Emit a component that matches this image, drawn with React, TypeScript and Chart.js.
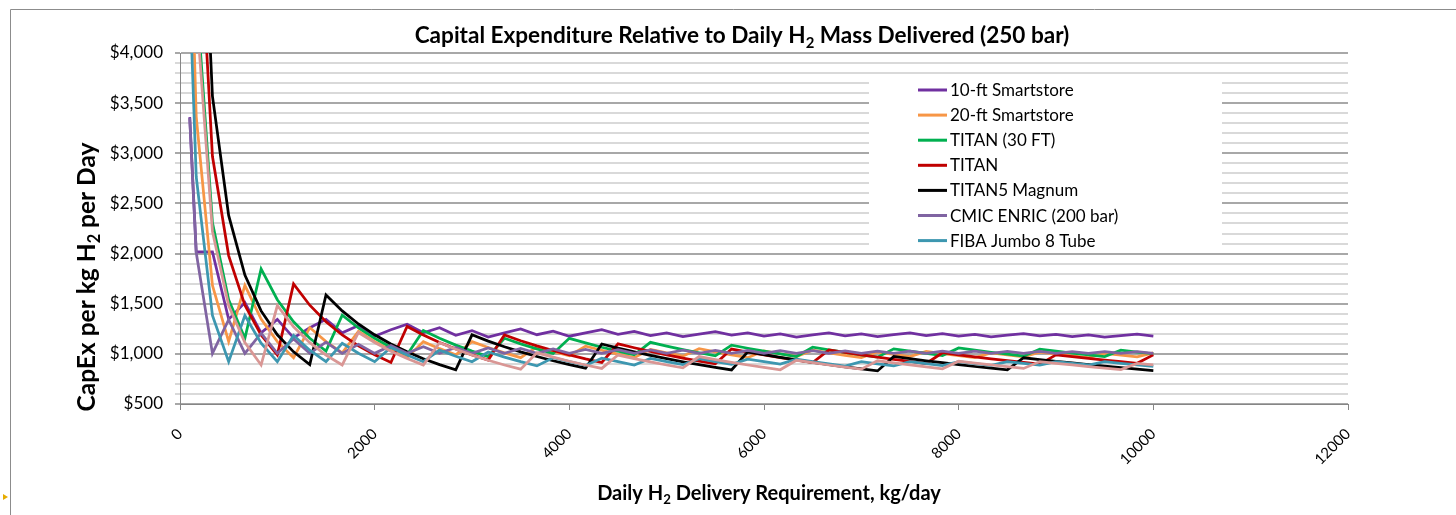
import React, { useEffect, useRef } from 'react';
import { Chart, registerables } from 'chart.js';

Chart.register(...registerables);

const FONT = 'Lato, "Open Sans", "DejaVu Sans", sans-serif';

// Daily H2 delivery requirement (kg/day) at each computed point
const DELIVERY_KG = [100, 166.7, 333.3, 500, 666.7, 833.3, 1000, 1166.7, 1333.3, 1500, 1666.7, 1833.3, 2000, 2166.7, 2333.3, 2500, 2666.7, 2833.3, 3000, 3166.7, 3333.3, 3500, 3666.7, 3833.3, 4000, 4166.7, 4333.3, 4500, 4666.7, 4833.3, 5000, 5166.7, 5333.3, 5500, 5666.7, 5833.3, 6000, 6166.7, 6333.3, 6500, 6666.7, 6833.3, 7000, 7166.7, 7333.3, 7500, 7666.7, 7833.3, 8000, 8166.7, 8333.3, 8500, 8666.7, 8833.3, 9000, 9166.7, 9333.3, 9500, 9666.7, 9833.3, 10000];

const SMARTSTORE_10FT = [3360, 2016, 2016, 1344, 1512, 1210, 1344, 1160, 1260, 1344, 1210, 1283, 1176, 1241, 1296, 1210, 1260, 1186, 1232, 1167, 1210, 1248, 1191, 1227, 1176, 1210, 1241, 1195, 1224, 1182, 1210, 1171, 1197, 1222, 1186, 1210, 1176, 1199, 1167, 1189, 1210, 1180, 1200, 1172, 1191, 1210, 1183, 1201, 1176, 1193, 1169, 1186, 1202, 1179, 1195, 1173, 1188, 1167, 1182, 1196, 1176];
const SMARTSTORE_20FT = [5610, 3366, 1683, 1122, 1683, 1346, 1122, 962, 1262, 1122, 1010, 1224, 1122, 1036, 962, 1122, 1052, 990, 1122, 1063, 1010, 962, 1071, 1024, 982, 1077, 1036, 997, 962, 1045, 1010, 977, 1052, 1020, 990, 962, 1029, 1001, 974, 1036, 1010, 985, 962, 1018, 994, 972, 1024, 1003, 982, 962, 1010, 990, 971, 1016, 997, 979, 962, 1004, 987, 970, 1010];
const TITAN_30FT = [7700, 4620, 2310, 1540, 1155, 1848, 1540, 1320, 1155, 1027, 1386, 1260, 1155, 1066, 990, 1232, 1155, 1087, 1027, 973, 1155, 1100, 1050, 1004, 1155, 1109, 1066, 1027, 990, 1115, 1078, 1043, 1011, 980, 1087, 1056, 1027, 999, 973, 1066, 1040, 1014, 990, 967, 1050, 1027, 1004, 983, 1059, 1037, 1016, 997, 977, 1046, 1027, 1008, 990, 973, 1036, 1018, 1001];
const TITAN = [9900, 5940, 2970, 1980, 1485, 1188, 990, 1697, 1485, 1320, 1188, 1080, 990, 914, 1273, 1188, 1114, 1048, 990, 938, 1188, 1131, 1080, 1033, 990, 950, 914, 1100, 1061, 1024, 990, 958, 928, 900, 1048, 1018, 990, 963, 938, 914, 1040, 1014, 990, 967, 945, 924, 904, 1011, 990, 970, 950, 932, 914, 897, 990, 972, 955, 938, 922, 906, 990];
const TITAN5_MAGNUM = [11900, 7140, 3570, 2380, 1785, 1428, 1190, 1020, 893, 1587, 1428, 1298, 1190, 1098, 1020, 952, 893, 840, 1190, 1127, 1071, 1020, 974, 931, 893, 857, 1098, 1058, 1020, 985, 952, 921, 893, 865, 840, 1020, 992, 965, 939, 915, 893, 871, 850, 830, 974, 952, 931, 912, 893, 874, 857, 840, 961, 943, 926, 909, 893, 877, 862, 847, 833];
const CMIC_ENRIC = [3350, 2010, 1005, 1340, 1005, 1206, 1005, 1149, 1005, 1117, 1005, 1096, 1005, 1082, 1005, 1072, 1005, 1064, 1005, 1058, 1005, 1053, 1005, 1049, 1005, 1045, 1005, 1042, 1005, 1040, 1005, 1037, 1005, 1035, 1005, 1034, 1005, 1032, 1005, 1031, 1005, 1030, 1005, 1028, 1005, 1027, 1005, 1026, 1005, 1026, 1005, 1025, 1005, 1024, 1005, 1023, 1005, 1023, 1005, 1022, 1005];
const FIBA_JUMBO = [4610, 2766, 1383, 922, 1383, 1106, 922, 1185, 1037, 922, 1106, 1006, 922, 1064, 988, 922, 1037, 976, 922, 1019, 968, 922, 880, 962, 922, 885, 957, 922, 889, 954, 922, 892, 951, 922, 895, 948, 922, 897, 946, 922, 899, 877, 922, 901, 880, 922, 902, 883, 922, 903, 885, 922, 904, 887, 922, 905, 889, 922, 906, 891, 876];
const UNLISTED_SERIES = [7410, 4446, 2223, 1482, 1112, 889, 1482, 1270, 1112, 988, 889, 1213, 1112, 1026, 953, 889, 1112, 1046, 988, 936, 889, 847, 1010, 967, 926, 889, 855, 988, 953, 920, 889, 860, 973, 943, 915, 889, 865, 841, 936, 912, 889, 868, 847, 931, 909, 889, 870, 851, 926, 907, 889, 872, 855, 923, 906, 889, 873, 858, 843, 904, 889];

const SERIES_NAMES = ['10-ft Smartstore', '20-ft Smartstore', 'TITAN (30 FT)', 'TITAN', 'TITAN5 Magnum', 'CMIC ENRIC (200 bar)', 'FIBA Jumbo 8 Tube', ''];
const SERIES_VALUES = [SMARTSTORE_10FT, SMARTSTORE_20FT, TITAN_30FT, TITAN, TITAN5_MAGNUM, CMIC_ENRIC, FIBA_JUMBO, UNLISTED_SERIES];
const SERIES_COLORS = ['#7030A0', '#F79646', '#00B050', '#C00000', '#000000', '#8064A2', '#3D97B0', '#D99694'];

const X_MIN = 0;
const X_MAX = 12000;
const X_STEP = 2000;
const Y_MIN = 500;
const Y_MAX = 4000;
const Y_MINOR = 100;
const Y_MAJOR = 500;

type Seg = [string, boolean];
const TITLE: Seg[] = [['Capital Expenditure Relative to Daily H', false], ['2', true], [' Mass Delivered (250 bar)', false]];
const Y_TITLE: Seg[] = [['CapEx per kg H', false], ['2', true], [' per Day', false]];
const X_TITLE: Seg[] = [['Daily H', false], ['2', true], [' Delivery Requirement, kg/day', false]];

function richWidth(ctx: CanvasRenderingContext2D, segs: Seg[], size: number, weight: string) {
  let w = 0;
  for (const [t, sub] of segs) {
    ctx.font = `${weight} ${sub ? size * 0.66 : size}px ${FONT}`;
    w += ctx.measureText(t).width;
  }
  return w;
}

function drawRich(ctx: CanvasRenderingContext2D, segs: Seg[], cx: number, baseline: number, size: number, weight: string) {
  const total = richWidth(ctx, segs, size, weight);
  let x = cx - total / 2;
  ctx.textAlign = 'left';
  ctx.textBaseline = 'alphabetic';
  for (const [t, sub] of segs) {
    const s = sub ? size * 0.66 : size;
    ctx.font = `${weight} ${s}px ${FONT}`;
    ctx.fillText(t, x, sub ? baseline + size * 0.2 : baseline);
    x += ctx.measureText(t).width;
  }
}

function fitSize(ctx: CanvasRenderingContext2D, segs: Seg[], target: number, weight: string) {
  return (20 * target) / richWidth(ctx, segs, 20, weight);
}

const decorPlugin = {
  id: 'decor',
  afterDraw(chart: any) {
    const ctx: CanvasRenderingContext2D = chart.ctx;
    ctx.save();
    // outer frame
    ctx.strokeStyle = '#8C8C8C';
    ctx.lineWidth = 1;
    ctx.beginPath();
    ctx.moveTo(10.5, chart.height);
    ctx.lineTo(10.5, 9.5);
    ctx.lineTo(chart.width, 9.5);
    ctx.stroke();
    // small marker
    ctx.fillStyle = '#E6AC00';
    ctx.beginPath();
    ctx.moveTo(3, 494);
    ctx.lineTo(8, 497);
    ctx.lineTo(3, 500);
    ctx.closePath();
    ctx.fill();

    ctx.fillStyle = '#000';
    const ts = fitSize(ctx, TITLE, 655, 'bold');
    drawRich(ctx, TITLE, 742, 43, ts, 'bold');
    const xs = fitSize(ctx, X_TITLE, 344, 'bold');
    drawRich(ctx, X_TITLE, 769, 500, xs, 'bold');
    ctx.save();
    ctx.translate(95, 277);
    ctx.rotate(-Math.PI / 2);
    const ys = fitSize(ctx, Y_TITLE, 269, 'bold');
    drawRich(ctx, Y_TITLE, 0, 0, ys, 'bold');
    ctx.restore();

    // legend
    ctx.fillStyle = '#FFFFFF';
    ctx.fillRect(869, 76, 353, 176);
    const items = chart.data.datasets.filter((d: any) => d.label);
    items.forEach((ds: any, i: number) => {
      const y = 90 + i * 25.1;
      ctx.strokeStyle = ds.borderColor;
      ctx.lineWidth = 3;
      ctx.beginPath();
      ctx.moveTo(918, y);
      ctx.lineTo(947, y);
      ctx.stroke();
      ctx.fillStyle = '#000';
      ctx.font = `17px ${FONT}`;
      ctx.textAlign = 'left';
      ctx.textBaseline = 'alphabetic';
      ctx.fillText(ds.label, 950, y + 6);
    });
    ctx.restore();
  },
};

export default function App() {
  const ref = useRef<HTMLCanvasElement>(null);
  useEffect(() => {
    const canvas = ref.current;
    if (!canvas) return;
    const datasets = SERIES_VALUES.map((vals, i) => ({
      label: SERIES_NAMES[i],
      data: DELIVERY_KG.map((x, j) => ({ x, y: vals[j] })),
      borderColor: SERIES_COLORS[i],
      backgroundColor: SERIES_COLORS[i],
      borderWidth: 2.75,
      pointRadius: 0,
      tension: 0,
      fill: false,
      order: SERIES_VALUES.length - 1 - i,
      clip: 0,
    }));
    const chart = new Chart(canvas, {
      type: 'line',
      data: { datasets } as any,
      options: {
        responsive: false,
        animation: false,
        devicePixelRatio: 1,
        layout: { padding: { left: 0, top: 53, right: 108, bottom: 0 } },
        plugins: { legend: { display: false }, title: { display: false }, tooltip: { enabled: false } },
        scales: {
          x: {
            type: 'linear',
            min: X_MIN,
            max: X_MAX,
            afterFit: (s: any) => { s.height = 111; },
            ticks: {
              stepSize: X_STEP,
              autoSkip: false,
              maxRotation: 45,
              minRotation: 45,
              padding: 15,
              color: '#000',
              font: { family: FONT, size: 15 },
              callback: (v: any) => String(v),
            },
            grid: { drawOnChartArea: false, drawTicks: true, tickLength: 6, color: '#868686', lineWidth: 1 },
            border: { display: true, color: '#868686', width: 1 },
          },
          y: {
            min: Y_MIN,
            max: Y_MAX,
            afterFit: (s: any) => { s.width = 180; },
            ticks: {
              stepSize: Y_MINOR,
              autoSkip: false,
              padding: 12,
              color: '#000',
              font: { family: FONT, size: 17 },
              callback: (v: any) => (Number(v) % Y_MAJOR === 0 ? '$' + Number(v).toLocaleString('en-US') : ''),
            },
            grid: {
              color: (c: any) => (c.tick && c.tick.value % Y_MAJOR === 0 ? '#A8A8A8' : '#D9D9D9'),
              lineWidth: 2,
              tickLength: 5,
              drawTicks: true,
            },
            border: { display: true, color: '#868686', width: 1 },
          },
        },
      } as any,
      plugins: [decorPlugin],
    });
    return () => chart.destroy();
  }, []);
  return (
    <div style={{ position: 'absolute', left: 0, top: 0, width: 1456, height: 515, background: '#fff' }}>
      <canvas ref={ref} width={1456} height={515} style={{ display: 'block', width: 1456, height: 515 }} />
    </div>
  );
}
